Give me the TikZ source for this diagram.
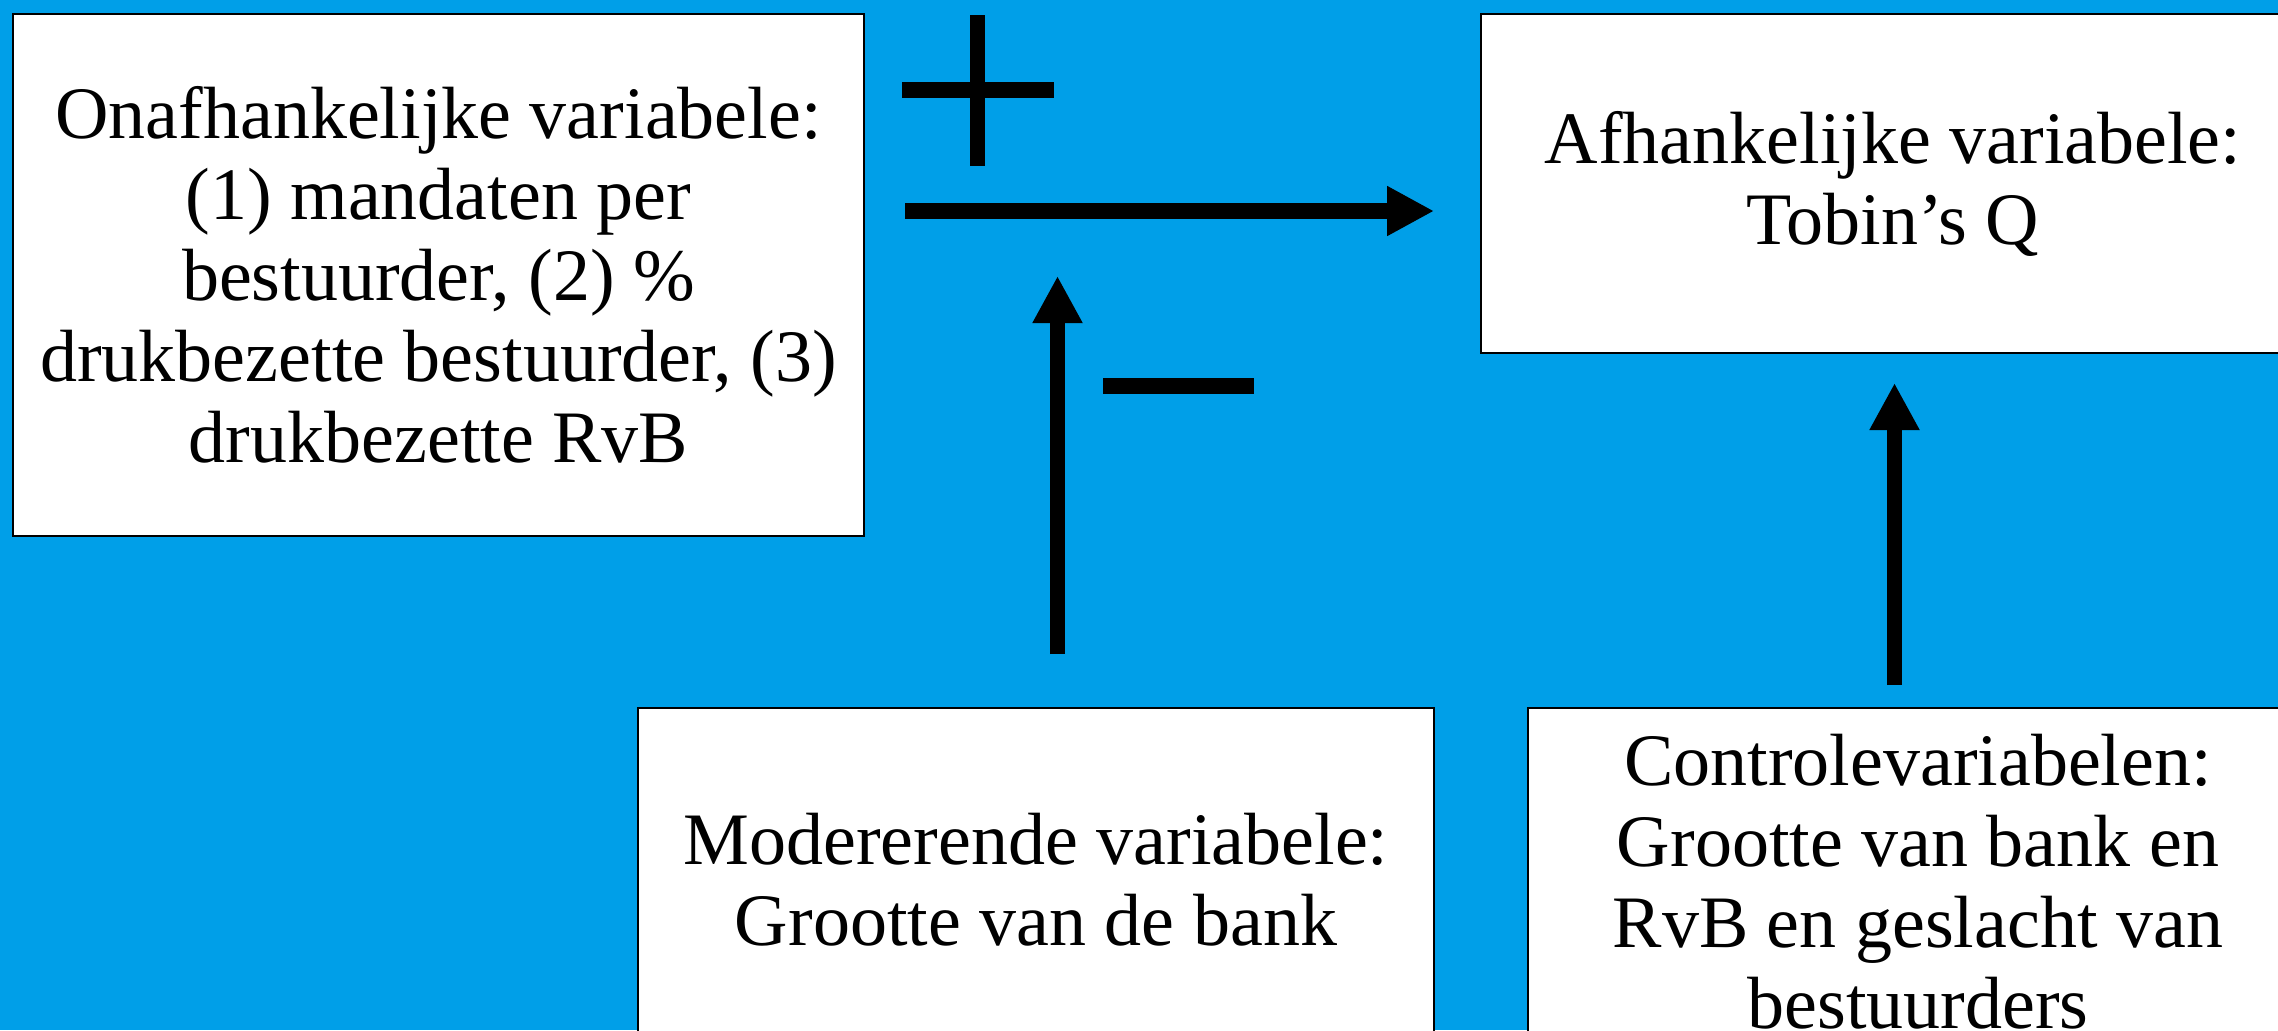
\documentclass[tikz,border=0pt]{standalone}
\usepackage{fontspec}
\setmainfont{Liberation Serif}
\usetikzlibrary{arrows.meta}
\definecolor{bg}{RGB}{0,159,232}
\begin{document}
\begin{tikzpicture}[x=0.5pt,y=-0.5pt,
  box/.style={draw=black, line width=1pt, fill=white, align=center,
    font=\fontsize{37}{40.5}\selectfont, inner sep=0pt},
  conn/.style={line width=7.8pt, -{Triangle[length=23.5pt,width=23.5pt]}},
  sign/.style={line width=7.8pt}]
\fill[bg] (0,0) rectangle (2278,1030);
\useasboundingbox (0,0) rectangle (2278,1030);
\clip (0,0) rectangle (2278,1030);

\node[box, minimum width=425.5pt, minimum height=261pt] (onaf) at (438.5,275)
  {Onafhankelijke variabele:\\(1) mandaten per\\bestuurder, (2) \%\\drukbezette bestuurder, (3)\\drukbezette RvB};
\node[box, minimum width=412pt, minimum height=169.5pt] (afh) at (1893,183.5)
  {Afhankelijke variabele:\\Tobin’s Q};
\node[box, minimum width=398pt, minimum height=172pt] (mod) at (1036,880)
  {Modererende variabele:\\Grootte van de bank};
\node[box, minimum width=390pt, minimum height=174pt] (ctrl) at (1918,882)
  {Controlevariabelen:\\Grootte van bank en\\RvB en geslacht van\\bestuurders};

\coordinate (hs) at (905,211);
\coordinate (he) at (1434,211);
\coordinate (ms) at (1057.5,654);
\coordinate (me) at (1057.5,276);
\coordinate (cs) at (1894.5,685);
\coordinate (ce) at (1894.5,383);

\draw[conn] (hs) -- (he);
\draw[conn] (ms) -- (me);
\draw[conn] (cs) -- (ce);

% plus sign
\draw[sign] (902,90) -- (1054,90);
\draw[sign] (977.5,15) -- (977.5,166);
% minus sign
\draw[sign] (1103,386) -- (1254,386);
\end{tikzpicture}
\end{document}
